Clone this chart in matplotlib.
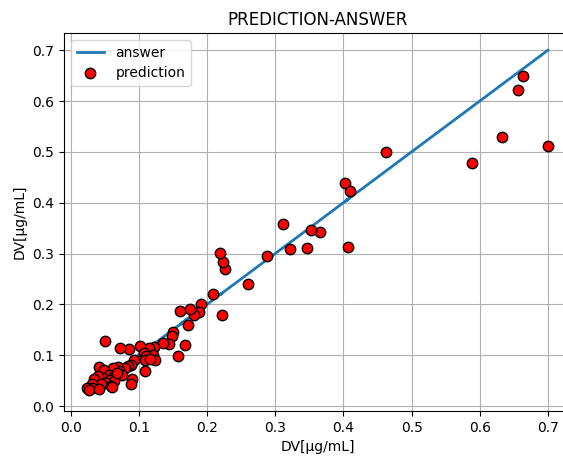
import matplotlib
matplotlib.use("Agg")
import matplotlib.pyplot as plt

# answer (true DV) and model prediction
answer = [0.700, 0.663, 0.656, 0.633, 0.589, 0.463, 0.403, 0.409, 0.407, 0.365,
          0.352, 0.346, 0.321, 0.311, 0.288, 0.260, 0.227, 0.224, 0.219, 0.222,
          0.209, 0.191, 0.188, 0.181, 0.175, 0.161, 0.172, 0.167, 0.158, 0.150,
          0.149, 0.144, 0.135, 0.122, 0.115, 0.101, 0.086, 0.073, 0.050, 0.108,
          0.120, 0.110, 0.109, 0.124, 0.116, 0.093, 0.109, 0.089, 0.084, 0.079,
          0.070, 0.071, 0.062, 0.042, 0.049, 0.056, 0.063, 0.047, 0.040, 0.034,
          0.058, 0.064, 0.052, 0.044, 0.032, 0.032, 0.024, 0.027, 0.042, 0.059,
          0.090, 0.089, 0.075, 0.068, 0.060]
prediction = [0.511, 0.650, 0.622, 0.529, 0.479, 0.499, 0.438, 0.422, 0.312, 0.342,
              0.346, 0.310, 0.308, 0.358, 0.295, 0.240, 0.270, 0.283, 0.302, 0.180,
              0.221, 0.201, 0.185, 0.180, 0.190, 0.187, 0.159, 0.120, 0.098, 0.146,
              0.138, 0.122, 0.124, 0.117, 0.114, 0.118, 0.112, 0.114, 0.128, 0.104,
              0.101, 0.098, 0.090, 0.091, 0.092, 0.090, 0.068, 0.081, 0.079, 0.074,
              0.077, 0.069, 0.075, 0.077, 0.070, 0.062, 0.059, 0.056, 0.059, 0.054,
              0.051, 0.049, 0.046, 0.044, 0.044, 0.036, 0.036, 0.031, 0.033, 0.039,
              0.054, 0.044, 0.062, 0.065, 0.038]

fig = plt.figure(figsize=(5.63, 4.61), dpi=100)
# figure is cropped on the right in the reference, so the axes run past the edge
ax = fig.add_axes([64 / 563, 50 / 461, 507 / 563, 378 / 461])

ax.plot(answer, answer, lw=2, label="answer")
ax.plot(answer, prediction, "o", ms=7.5, color="red", mec="black",
        label="prediction")

ax.set_title("PREDICTION-ANSWER")
ax.set_xlabel("DV[μg/mL]")
ax.set_ylabel("DV[μg/mL]")
ax.grid(True)
ax.legend(loc="upper left")

fig.savefig("out.png", dpi=100)
